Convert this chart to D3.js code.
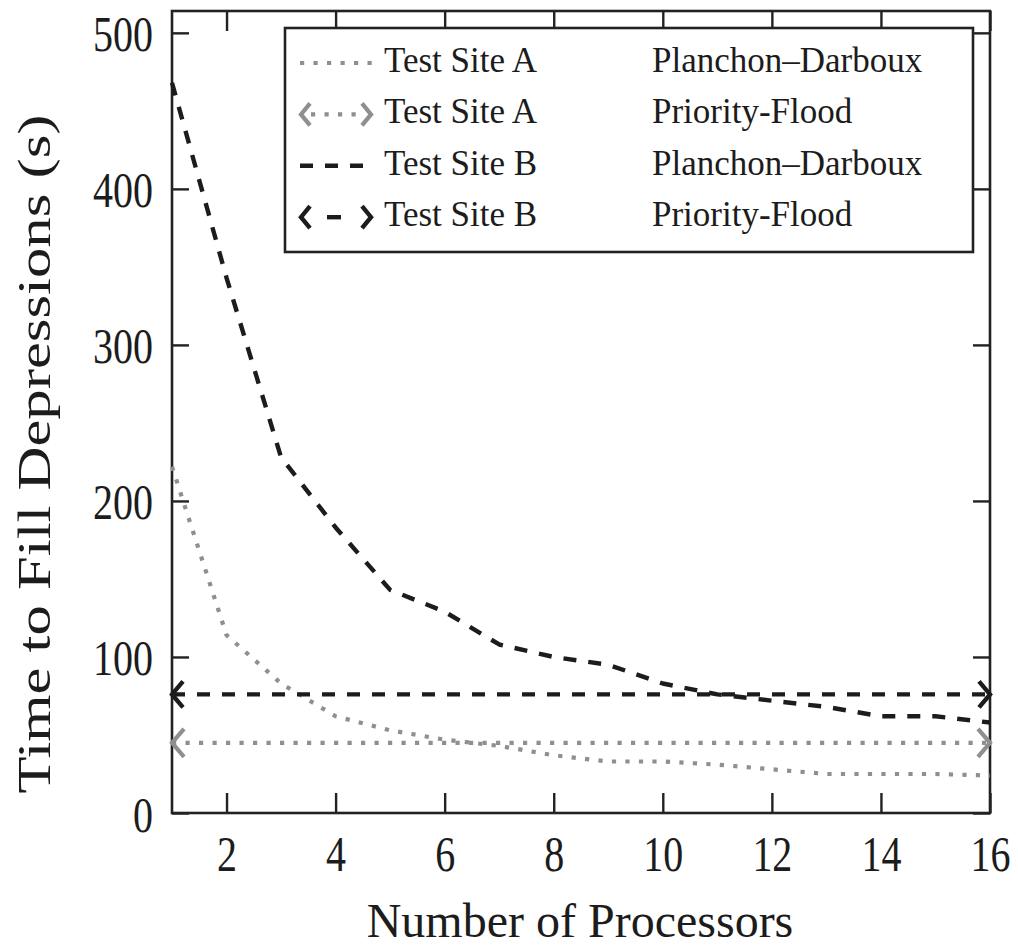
<!DOCTYPE html>
<meta charset="utf-8">
<style>
    body { margin: 0; background: #ffffff; }
    text { font-family: "Liberation Serif", "Times New Roman", serif; fill: #1c1c1c; }
</style>
<svg width="1018" height="950"></svg>
<script src="https://d3js.org/d3.v7.min.js"></script>
<script>

    // processors 1..16
    var processors = d3.range(1, 17);

    // Time to fill depressions (s)
    var siteA_PD = [222, 114, 83, 62, 53, 47, 43, 37, 33, 33, 31, 28, 25, 25, 25, 24];
    var siteB_PD = [468, 343, 228, 183, 143, 129, 108, 100, 95, 83, 76, 72, 68, 62, 62, 58];
    var siteA_PF = 45;
    var siteB_PF = 76;

    var xTicks = [2, 4, 6, 8, 10, 12, 14, 16];
    var yTicks = [0, 100, 200, 300, 400, 500];

    var legendRows = [
        { site: "Test Site A", method: "Planchon\u2013Darboux", style: "dotted", arrows: false },
        { site: "Test Site A", method: "Priority-Flood", style: "dotted", arrows: true },
        { site: "Test Site B", method: "Planchon\u2013Darboux", style: "dashed", arrows: false },
        { site: "Test Site B", method: "Priority-Flood", style: "dashed", arrows: true }
    ];

    var gray = "#8f8f8f", black = "#1c1c1c";
    var styles = {
        dotted: { color: gray, width: 4.2, dash: "4.2,9.3" },
        dashed: { color: black, width: 4.4, dash: "13,12" }
    };

    var svg = d3.select("svg");
    // plot box (note: "top" is reserved on window, so use pl/pr/pt/pb)
    var pl = 172, pr = 990, pt = 11, pb = 813;

    var x = d3.scaleLinear().domain([1, 16]).range([pl, pr]);
    var y = d3.scaleLinear().domain([0, 514]).range([pb, pt]);

    // axes (ticks point inward, labels only on bottom/left)
    var gx = svg.append("g").attr("transform", "translate(0," + pb + ")")
        .call(d3.axisBottom(x).tickValues(xTicks).tickSize(-20).tickSizeOuter(0));
    svg.append("g").attr("transform", "translate(0," + pt + ")")
        .call(d3.axisTop(x).tickValues(xTicks).tickSize(-20).tickSizeOuter(0).tickFormat(""));
    var gy = svg.append("g").attr("transform", "translate(" + pl + ",0)")
        .call(d3.axisLeft(y).tickValues(yTicks).tickSize(-17).tickSizeOuter(0).tickPadding(19));
    svg.append("g").attr("transform", "translate(" + pr + ",0)")
        .call(d3.axisRight(y).tickValues(yTicks).tickSize(-17).tickSizeOuter(0).tickFormat(""));

    svg.selectAll(".domain").remove();
    svg.selectAll(".tick line").attr("stroke", "#222").attr("stroke-width", 2.4);

    gx.selectAll("text")
        .attr("font-size", 40)
        .attr("font-family", "Liberation Serif")
        .attr("fill", black)
        .attr("y", 46.4).attr("dy", 0)
        .attr("transform", "scale(1,1.25)");
    gy.selectAll("text")
        .attr("font-size", 40)
        .attr("font-family", "Liberation Serif")
        .attr("fill", black)
        .attr("dy", "0.36em")
        .attr("transform", "scale(1,1.25)");

    // frame
    svg.append("rect")
        .attr("x", pl).attr("y", pt)
        .attr("width", pr - pl).attr("height", pb - pt)
        .attr("fill", "none").attr("stroke", "#222").attr("stroke-width", 2.6);

    var line = d3.line()
        .x(function (d, i) { return x(processors[i]); })
        .y(function (d) { return y(d); });

    function drawSeries(values, st) {
        svg.append("path")
            .datum(values)
            .attr("d", line)
            .attr("fill", "none")
            .attr("stroke", st.color)
            .attr("stroke-width", st.width)
            .attr("stroke-dasharray", st.dash)
            .attr("stroke-linejoin", "round");
    }

    function chevron(g, cx, cy, dir, st, h, d) {
        g.append("path")
            .attr("d", "M" + (cx - dir * d) + "," + (cy - h) + "L" + cx + "," + cy + "L" + (cx - dir * d) + "," + (cy + h))
            .attr("fill", "none")
            .attr("stroke", st.color)
            .attr("stroke-width", st.width)
            .attr("stroke-linejoin", "miter");
    }

    function drawFlat(value, st, h, d) {
        var vals = processors.map(function () { return value; });
        svg.append("path")
            .datum(vals)
            .attr("d", line)
            .attr("fill", "none")
            .attr("stroke", st.color)
            .attr("stroke-width", st.width)
            .attr("stroke-dasharray", st.dash);
        chevron(svg, x(1), y(value), -1, st, h, d);
        chevron(svg, x(16), y(value), 1, st, h, d);
    }

    drawSeries(siteA_PD, styles.dotted);
    drawFlat(siteA_PF, styles.dotted, 14, 12);
    drawSeries(siteB_PD, styles.dashed);
    drawFlat(siteB_PF, styles.dashed, 13, 11);

    // legend
    var legend = svg.append("g");
    legend.append("rect")
        .attr("x", 285).attr("y", 28)
        .attr("width", 688).attr("height", 224)
        .attr("fill", "#ffffff").attr("stroke", "#222").attr("stroke-width", 2.6);

    legendRows.forEach(function (r, i) {
        var ry = 63 + i * 51.4;
        var st = styles[r.style];
        if (r.arrows) {
            var x0 = 301, x1 = 371;
            legend.append("line")
                .attr("x1", r.style === "dashed" ? 327 : 309).attr("x2", r.style === "dashed" ? 341 : 363)
                .attr("y1", ry).attr("y2", ry)
                .attr("stroke", st.color).attr("stroke-width", st.width)
                .attr("stroke-dasharray", r.style === "dashed" ? null : st.dash)
                .attr("stroke-dashoffset", -2);
            chevron(legend, x0, ry, -1, st, 11, 9);
            chevron(legend, x1, ry, 1, st, 11, 9);
        } else {
            legend.append("line")
                .attr("x1", 300).attr("x2", r.style === "dashed" ? 364 : 373)
                .attr("y1", ry).attr("y2", ry)
                .attr("stroke", st.color).attr("stroke-width", st.width)
                .attr("stroke-dasharray", st.dash);
        }
        legend.append("text")
            .attr("x", 384).attr("y", ry + 9)
            .attr("font-size", 35)
            .text(r.site);
        legend.append("text")
            .attr("x", 652).attr("y", ry + 9)
            .attr("font-size", 35)
            .text(r.method);
    });

    // axis titles
    svg.append("text")
        .attr("text-anchor", "middle")
        .attr("font-size", 48)
        .attr("x", 580).attr("y", 937)
        .text("Number of Processors");

    svg.append("text")
        .attr("text-anchor", "middle")
        .attr("font-size", 46)
        .attr("transform", "translate(50,454) rotate(-90) scale(1.32,1)")
        .text("Time to Fill Depressions (s)");

</script>
